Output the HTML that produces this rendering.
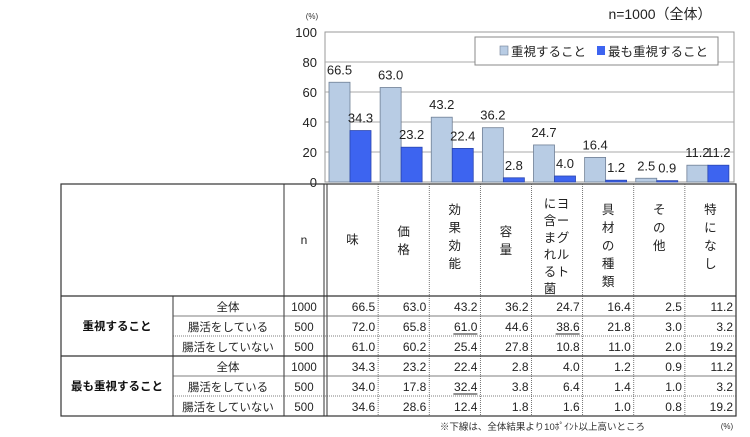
<!DOCTYPE html>
<html><head><meta charset="utf-8">
<style>
body{margin:0;background:#fff;}
svg{display:block;font-family:"Liberation Sans","Noto Sans CJK JP",sans-serif;}
</style></head>
<body>
<svg id="s" width="750" height="437" viewBox="0 0 750 437">
<text x="660" y="19" font-size="14" text-anchor="middle" fill="#222">n=1000（全体）</text>
<text x="312" y="19" font-size="8" text-anchor="middle" fill="#333">(%)</text>
<g id="chart"></g>
<g id="table"></g>
<text x="645" y="430" font-size="9.5" text-anchor="end" fill="#333">※下線は、全体結果より10ﾎﾟｲﾝﾄ以上高いところ</text>
<text x="727" y="429" font-size="8" text-anchor="middle" fill="#333">(%)</text>
</svg>
<script>
const categories=["味","価格","効果効能","容量","ヨーグルトに含まれる菌","具材の種類","その他","特になし"];
const seriesImportant=[66.5,63.0,43.2,36.2,24.7,16.4,2.5,11.2];
const seriesMostImportant=[34.3,23.2,22.4,2.8,4.0,1.2,0.9,11.2];
const yTicks=[0,20,40,60,80,100];
const groupLabels=["重視すること","最も重視すること"];
const subLabels=["全体","腸活をしている","腸活をしていない"];
const nValues=[1000,500,500,1000,500,500];
const tableRows=[
[66.5,63.0,43.2,36.2,24.7,16.4,2.5,11.2],
[72.0,65.8,61.0,44.6,38.6,21.8,3.0,3.2],
[61.0,60.2,25.4,27.8,10.8,11.0,2.0,19.2],
[34.3,23.2,22.4,2.8,4.0,1.2,0.9,11.2],
[34.0,17.8,32.4,3.8,6.4,1.4,1.0,3.2],
[34.6,28.6,12.4,1.8,1.6,1.0,0.8,19.2]];
const underlined=[[1,2],[1,4],[4,2]];

const NS="http://www.w3.org/2000/svg";
function mk(p,t,a,txt){const e=document.createElementNS(NS,t);for(const k in a)e.setAttribute(k,a[k]);if(txt!==undefined)e.textContent=txt;p.appendChild(e);return e;}
const L=325,R=734,T=32,B=182;
const gw=(R-L)/categories.length;
const y=v=>B-(v/100)*(B-T);
const gx=i=>L+i*gw;
const ch=document.getElementById('chart');
mk(ch,'rect',{x:L,y:T,width:R-L,height:B-T,fill:'#fff',stroke:'#999','stroke-width':1});
yTicks.forEach(t=>{
 if(t>0&&t<100){const g=mk(ch,'line',{x1:L,x2:R,y1:y(t),y2:y(t),stroke:'#aaa','stroke-width':1});
 }
 const tl=mk(ch,'text',{x:L-8,y:y(t)+5,'font-size':13,'text-anchor':'end',fill:'#222'},String(t));
 
 
});
const bw=21;
categories.forEach((c,i)=>{
 const x0=gx(i)+4;
 const v1=seriesImportant[i],v2=seriesMostImportant[i];
 const b1=mk(ch,'rect',{x:x0,y:y(v1),width:bw,height:B-y(v1),fill:'#b8cce4',stroke:'#6f7f95','stroke-width':0.8});
 
 
 const b2=mk(ch,'rect',{x:x0+bw,y:y(v2),width:bw,height:B-y(v2),fill:'#3d64f0',stroke:'#2a45b0','stroke-width':0.8});
 
 
 const l1=mk(ch,'text',{x:x0+bw/2,y:y(v1)-8,'font-size':13,'text-anchor':'middle',fill:'#222'},v1.toFixed(1));
 
 
 const l2=mk(ch,'text',{x:x0+bw*1.5,y:y(v2)-8,'font-size':13,'text-anchor':'middle',fill:'#222'},v2.toFixed(1));
 
 
});
const lg=mk(ch,'g',{});


mk(lg,'rect',{x:475,y:37,width:243,height:28,fill:'#fff',stroke:'#888','stroke-width':1});
mk(lg,'rect',{x:500,y:46,width:8,height:9,fill:'#b8cce4',stroke:'#6f7f95','stroke-width':0.6});
const le1=mk(lg,'text',{x:511,y:56,'font-size':12.5,fill:'#222'},'重視すること');


mk(lg,'rect',{x:597,y:46,width:8,height:9,fill:'#3d64f0'});
const le2=mk(lg,'text',{x:608,y:56,'font-size':12.5,fill:'#222'},'最も重視すること');



// table
const tb=document.getElementById('table');
const TL=61,TR=736,TT=184,HB=296,RH=20;
const cx=[TL,173,284,325];
const dc=i=>327+i*(TR-327)/8;
const ry=r=>HB+r*RH;
mk(tb,'rect',{x:TL,y:TT,width:TR-TL,height:ry(6)-TT,fill:'none',stroke:'#333','stroke-width':1.2});
mk(tb,'line',{x1:284,x2:284,y1:TT,y2:ry(6),stroke:'#333','stroke-width':1});
mk(tb,'line',{x1:324,x2:324,y1:TT,y2:ry(6),stroke:'#333','stroke-width':1});
mk(tb,'line',{x1:327,x2:327,y1:TT,y2:ry(6),stroke:'#333','stroke-width':1});
mk(tb,'line',{x1:173,x2:173,y1:HB,y2:ry(6),stroke:'#333','stroke-width':1});
for(let i=1;i<8;i++)mk(tb,'line',{x1:dc(i),x2:dc(i),y1:TT,y2:ry(6),stroke:'#555','stroke-width':0.8,'stroke-dasharray':'1 1'});
mk(tb,'line',{x1:TL,x2:TR,y1:HB,y2:HB,stroke:'#333','stroke-width':1.2});
mk(tb,'line',{x1:TL,x2:TR,y1:ry(3),y2:ry(3),stroke:'#333','stroke-width':1.2});
[1,2,4,5].forEach(r=>mk(tb,'line',{x1:173,x2:TR,y1:ry(r),y2:ry(r),stroke:'#555','stroke-width':0.8,'stroke-dasharray':r%3==2?'1 1':'0'}));
const nh=mk(tb,'text',{x:304,y:244,'font-size':12,'text-anchor':'middle',fill:'#222'},'n');


categories.forEach((c,i)=>{
 const chars=[...c];
 const cols=chars.length>5?[chars.slice(0,5),chars.slice(5)]:[chars];
 const cw=(TR-327)/8,cxm=dc(i)+cw/2;
 const startY=chars.length<=1?244:(chars.length<=2?236:214);
 cols.forEach((col,k)=>{
  const xx=cols.length>1?cxm+(k==0?6:-7):cxm;
  col.forEach((ch2,j)=>{
   const t=mk(tb,'text',{x:xx,y:(cols.length>1?208:startY)+j*(cols.length>1?17:18),'font-size':12.5,'text-anchor':'middle',fill:'#222'},ch2);
   
   
  });
 });
});
groupLabels.forEach((g,k)=>{
 const t=mk(tb,'text',{x:117,y:ry(k*3)+34,'font-size':11.5,'font-weight':'bold','text-anchor':'middle',fill:'#111'},g);
 
 
});
tableRows.forEach((row,r)=>{
 const by=ry(r)+15;
 const s=mk(tb,'text',{x:228,y:by,'font-size':11.5,'text-anchor':'middle',fill:'#222'},subLabels[r%3]);
 
 
 const n=mk(tb,'text',{x:304,y:by,'font-size':11.5,'text-anchor':'middle',fill:'#222'},String(nValues[r]));
 
 
 row.forEach((v,i)=>{
  const xr=dc(i+1)-3;
  const t=mk(tb,'text',{x:xr,y:by,'font-size':12,'text-anchor':'end',fill:'#222'},v.toFixed(1));
  
  
  if(underlined.some(u=>u[0]==r&&u[1]==i))mk(tb,'line',{x1:xr-24,x2:xr,y1:by+3,y2:by+3,stroke:'#222','stroke-width':1});
 });
});
</script>
</body></html>
